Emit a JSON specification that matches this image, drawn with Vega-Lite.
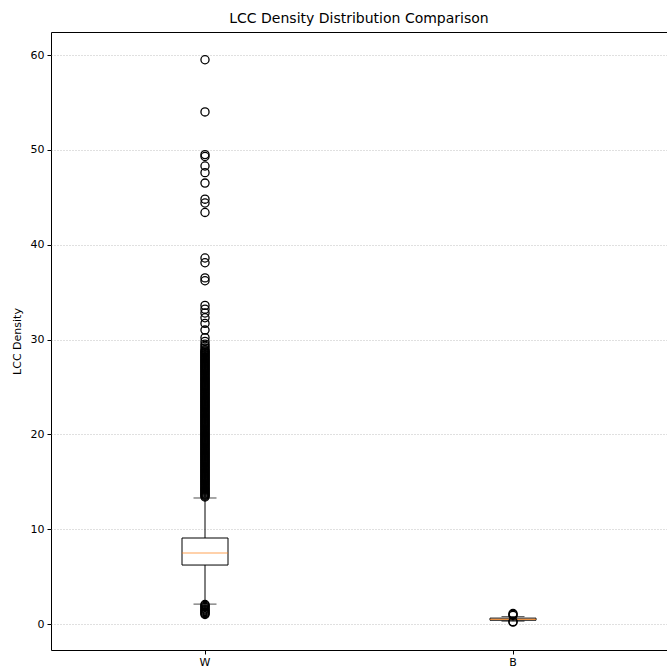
{
  "$schema": "https://vega.github.io/schema/vega-lite/v6.json",
  "width": 616,
  "height": 618,
  "autosize": {"type": "none"},
  "padding": {"left": 51, "top": 32, "right": 0, "bottom": 17},
  "background": "white",
  "config": {
    "view": {"stroke": "#000000", "strokeWidth": 1},
    "font": "DejaVu Sans"
  },
  "title": {
    "text": "LCC Density Distribution Comparison",
    "fontSize": 14,
    "fontWeight": "normal",
    "font": "DejaVu Sans",
    "color": "black",
    "anchor": "middle",
    "frame": "group",
    "offset": 6
  },
  "datasets": {
    "stats": [
      {"g": "W", "lo": 2.1, "q1": 6.22, "med": 7.49, "q3": 9.07, "hi": 13.29},
      {"g": "B", "lo": 0.3, "q1": 0.4, "med": 0.5, "q3": 0.62, "hi": 0.78}
    ],
    "out": [
      {"g":"W","v":59.5},{"g":"W","v":54.0},{"g":"W","v":49.5},{"g":"W","v":49.3},{"g":"W","v":48.3},{"g":"W","v":47.6},{"g":"W","v":46.5},{"g":"W","v":44.8},{"g":"W","v":44.4},{"g":"W","v":43.4},
      {"g":"W","v":38.6},{"g":"W","v":38.1},{"g":"W","v":36.5},{"g":"W","v":36.2},{"g":"W","v":33.6},{"g":"W","v":33.2},{"g":"W","v":32.8},{"g":"W","v":32.3},{"g":"W","v":31.7},{"g":"W","v":31.0},
      {"g":"W","v":30.2},{"g":"W","v":29.8},{"g":"W","v":29.5},{"g":"W","v":29.3},{"g":"W","v":29.1},{"g":"W","v":28.9},
      {"g":"W","v":28.8},{"g":"W","v":28.7},{"g":"W","v":28.6},{"g":"W","v":28.5},{"g":"W","v":28.4},{"g":"W","v":28.3},{"g":"W","v":28.2},{"g":"W","v":28.1},{"g":"W","v":28.0},
      {"g":"W","v":27.9},{"g":"W","v":27.8},{"g":"W","v":27.7},{"g":"W","v":27.6},{"g":"W","v":27.5},{"g":"W","v":27.4},{"g":"W","v":27.3},{"g":"W","v":27.2},{"g":"W","v":27.1},{"g":"W","v":27.0},
      {"g":"W","v":26.9},{"g":"W","v":26.8},{"g":"W","v":26.7},{"g":"W","v":26.6},{"g":"W","v":26.5},{"g":"W","v":26.4},{"g":"W","v":26.3},{"g":"W","v":26.2},{"g":"W","v":26.1},{"g":"W","v":26.0},
      {"g":"W","v":25.9},{"g":"W","v":25.8},{"g":"W","v":25.7},{"g":"W","v":25.6},{"g":"W","v":25.5},{"g":"W","v":25.4},{"g":"W","v":25.3},{"g":"W","v":25.2},{"g":"W","v":25.1},{"g":"W","v":25.0},
      {"g":"W","v":24.9},{"g":"W","v":24.8},{"g":"W","v":24.7},{"g":"W","v":24.6},{"g":"W","v":24.5},{"g":"W","v":24.4},{"g":"W","v":24.3},{"g":"W","v":24.2},{"g":"W","v":24.1},{"g":"W","v":24.0},
      {"g":"W","v":23.9},{"g":"W","v":23.8},{"g":"W","v":23.7},{"g":"W","v":23.6},{"g":"W","v":23.5},{"g":"W","v":23.4},{"g":"W","v":23.3},{"g":"W","v":23.2},{"g":"W","v":23.1},{"g":"W","v":23.0},
      {"g":"W","v":22.9},{"g":"W","v":22.8},{"g":"W","v":22.7},{"g":"W","v":22.6},{"g":"W","v":22.5},{"g":"W","v":22.4},{"g":"W","v":22.3},{"g":"W","v":22.2},{"g":"W","v":22.1},{"g":"W","v":22.0},
      {"g":"W","v":21.9},{"g":"W","v":21.8},{"g":"W","v":21.7},{"g":"W","v":21.6},{"g":"W","v":21.5},{"g":"W","v":21.4},{"g":"W","v":21.3},{"g":"W","v":21.2},{"g":"W","v":21.1},{"g":"W","v":21.0},
      {"g":"W","v":20.9},{"g":"W","v":20.8},{"g":"W","v":20.7},{"g":"W","v":20.6},{"g":"W","v":20.5},{"g":"W","v":20.4},{"g":"W","v":20.3},{"g":"W","v":20.2},{"g":"W","v":20.1},{"g":"W","v":20.0},
      {"g":"W","v":19.9},{"g":"W","v":19.8},{"g":"W","v":19.7},{"g":"W","v":19.6},{"g":"W","v":19.5},{"g":"W","v":19.4},{"g":"W","v":19.3},{"g":"W","v":19.2},{"g":"W","v":19.1},{"g":"W","v":19.0},
      {"g":"W","v":18.9},{"g":"W","v":18.8},{"g":"W","v":18.7},{"g":"W","v":18.6},{"g":"W","v":18.5},{"g":"W","v":18.4},{"g":"W","v":18.3},{"g":"W","v":18.2},{"g":"W","v":18.1},{"g":"W","v":18.0},
      {"g":"W","v":17.9},{"g":"W","v":17.8},{"g":"W","v":17.7},{"g":"W","v":17.6},{"g":"W","v":17.5},{"g":"W","v":17.4},{"g":"W","v":17.3},{"g":"W","v":17.2},{"g":"W","v":17.1},{"g":"W","v":17.0},
      {"g":"W","v":16.9},{"g":"W","v":16.8},{"g":"W","v":16.7},{"g":"W","v":16.6},{"g":"W","v":16.5},{"g":"W","v":16.4},{"g":"W","v":16.3},{"g":"W","v":16.2},{"g":"W","v":16.1},{"g":"W","v":16.0},
      {"g":"W","v":15.9},{"g":"W","v":15.8},{"g":"W","v":15.7},{"g":"W","v":15.6},{"g":"W","v":15.5},{"g":"W","v":15.4},{"g":"W","v":15.3},{"g":"W","v":15.2},{"g":"W","v":15.1},{"g":"W","v":15.0},
      {"g":"W","v":14.9},{"g":"W","v":14.8},{"g":"W","v":14.7},{"g":"W","v":14.6},{"g":"W","v":14.5},{"g":"W","v":14.4},{"g":"W","v":14.3},{"g":"W","v":14.2},{"g":"W","v":14.1},{"g":"W","v":14.0},
      {"g":"W","v":13.9},{"g":"W","v":13.8},{"g":"W","v":13.7},{"g":"W","v":13.6},{"g":"W","v":13.5},{"g":"W","v":13.4},
      {"g":"W","v":2.05},{"g":"W","v":1.95},{"g":"W","v":1.85},{"g":"W","v":1.75},{"g":"W","v":1.6},{"g":"W","v":1.5},{"g":"W","v":1.4},{"g":"W","v":1.3},{"g":"W","v":1.2},{"g":"W","v":1.1},{"g":"W","v":1.0},
      {"g":"B","v":1.1},{"g":"B","v":1.0},{"g":"B","v":0.9},{"g":"B","v":0.25},{"g":"B","v":0.2}
    ]
  },
  "encoding": {
    "x": {
      "field": "g",
      "type": "nominal",
      "sort": ["W", "B"],
      "scale": {"type": "band", "domain": ["W", "B"], "paddingInner": 0, "paddingOuter": 0},
      "axis": {
        "title": null,
        "labelAngle": 0,
        "domain": false,
        "grid": false,
        "ticks": true,
        "tickSize": 4,
        "tickColor": "black",
        "labelFont": "DejaVu Sans",
        "labelFontSize": 11,
        "labelColor": "black",
        "labelPadding": 2
      }
    }
  },
  "layer": [
    {
      "data": {"name": "stats"},
      "mark": {"type": "rule", "color": "black", "strokeWidth": 1},
      "encoding": {
        "y": {
          "field": "lo",
          "type": "quantitative",
          "scale": {"domain": [-2.74, 62.43], "nice": false, "zero": false},
          "axis": {
            "title": "LCC Density",
            "values": [0, 10, 20, 30, 40, 50, 60],
            "domain": false,
            "grid": true,
            "gridDash": [1, 2],
            "gridColor": "#b0b0b0",
            "gridWidth": 0.8,
            "tickSize": 4,
            "tickColor": "black",
            "labelFont": "DejaVu Sans",
            "labelFontSize": 11,
            "labelColor": "black",
            "labelPadding": 3,
            "titleFont": "DejaVu Sans",
            "titleFontSize": 11,
            "titleFontWeight": "normal",
            "titleColor": "black",
            "titlePadding": 8
          }
        },
        "y2": {"field": "q1"}
      }
    },
    {
      "data": {"name": "stats"},
      "mark": {"type": "rule", "color": "black", "strokeWidth": 1},
      "encoding": {
        "y": {"field": "q3", "type": "quantitative"},
        "y2": {"field": "hi"}
      }
    },
    {
      "data": {"name": "stats"},
      "mark": {"type": "bar", "width": 46, "fill": "white", "stroke": "black", "strokeWidth": 1},
      "encoding": {
        "y": {"field": "q1", "type": "quantitative"},
        "y2": {"field": "q3"}
      }
    },
    {
      "data": {"name": "stats"},
      "mark": {"type": "tick", "color": "#ff7f0e", "size": 46, "thickness": 1.2},
      "encoding": {
        "y": {"field": "med", "type": "quantitative"}
      }
    },
    {
      "data": {"name": "stats"},
      "mark": {"type": "tick", "color": "black", "size": 23, "thickness": 1},
      "encoding": {
        "y": {"field": "lo", "type": "quantitative"}
      }
    },
    {
      "data": {"name": "stats"},
      "mark": {"type": "tick", "color": "black", "size": 23, "thickness": 1},
      "encoding": {
        "y": {"field": "hi", "type": "quantitative"}
      }
    },
    {
      "data": {"name": "out"},
      "mark": {"type": "point", "shape": "circle", "filled": false, "stroke": "black", "strokeWidth": 1.3, "size": 66, "opacity": 1},
      "encoding": {
        "y": {"field": "v", "type": "quantitative"}
      }
    }
  ]
}
